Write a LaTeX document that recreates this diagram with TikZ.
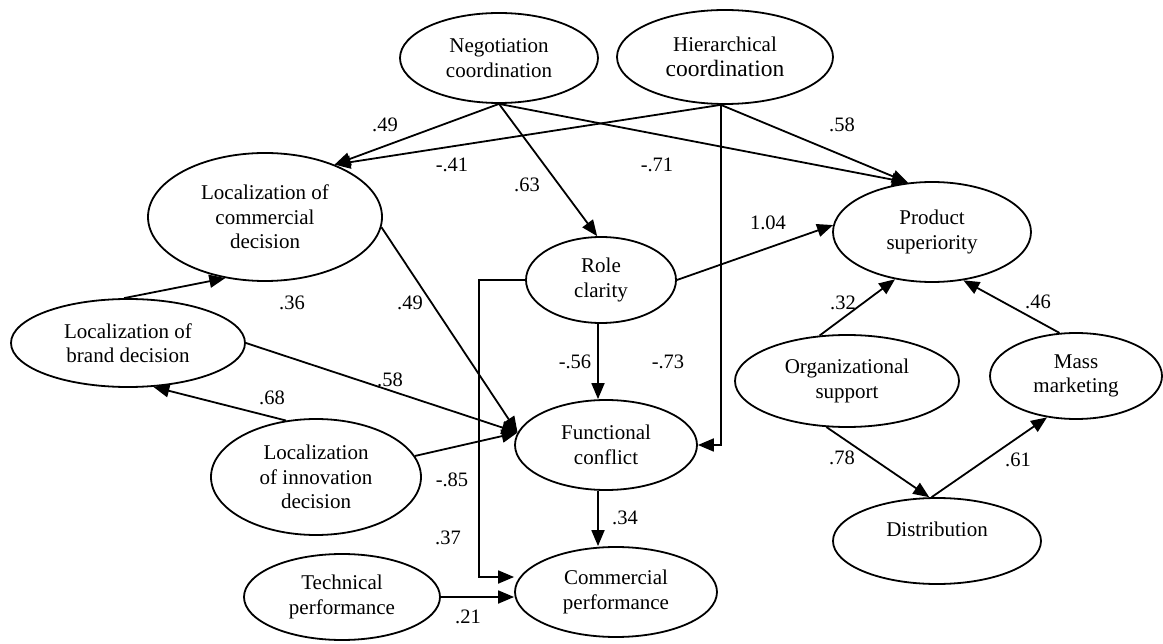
\documentclass[tikz,border=0pt]{standalone}
\usepackage{fontspec}
\setmainfont{Liberation Serif}
\usetikzlibrary{shapes.geometric,arrows.meta,calc}
\begin{document}
\begin{tikzpicture}[x=1pt,y=-1pt,
  lat/.style={draw,ellipse,line width=1.8pt,inner sep=0pt,align=center,font=\fontsize{21}{24.5}\selectfont},
  pth/.style={line width=1.8pt,-{Triangle[length=16pt,width=13pt]}},
  coef/.style={font=\fontsize{20.5}{24}\selectfont,inner sep=0pt}]
\useasboundingbox (0,0) rectangle (1163,644);

% latent variables
\node[lat,minimum width=198pt,minimum height=90pt] (neg) at (499,58) {Negotiation\\coordination};
\node[lat,minimum width=216pt,minimum height=94pt] (hier) at (725,57) {Hierarchical\\{\fontsize{23.5}{25}\selectfont coordination}};
\node[lat,minimum width=234pt,minimum height=128pt] (comm) at (265,217) {Localization of\\commercial\\decision};
\node[lat,minimum width=234pt,minimum height=88pt] (brand) at (128,343) {Localization of\\brand decision};
\node[lat,minimum width=210pt,minimum height=116pt] (innov) at (316,477) {Localization\\of innovation\\decision};
\node[lat,minimum width=150pt,minimum height=86pt] (role) at (601,280) {Role\\clarity};
\node[lat,minimum width=198pt,minimum height=100pt] (prod) at (932,232) {Product\\superiority};
\node[lat,minimum width=182pt,minimum height=90pt] (fc) at (606,445) {Functional\\conflict};
\node[lat,minimum width=202pt,minimum height=90pt] (cp) at (616,592) {Commercial\\performance};
\node[lat,minimum width=196pt,minimum height=86pt] (tech) at (342,597) {Technical\\performance};
\node[lat,minimum width=224pt,minimum height=92pt] (org) at (847,381) {Organizational\\support};
\node[lat,minimum width=172pt,minimum height=86pt] (mass) at (1076,376) {Mass\\marketing};
\node[lat,minimum width=208pt,minimum height=86pt] (dist) at (937,541) {Distribution\\ };

% paths
\draw[pth] (neg.south) -- (comm.37);
\draw[pth] (hier.265) -- (comm.37);
\draw[pth] (neg.south) -- (role.95);
\draw[pth] (neg.south) -- (prod.116);
\draw[pth] (hier.265) -- (prod.116);
\draw[pth] (hier.265) |- (fc.east);
\draw[pth] (comm.355) -- (fc.172);
\draw[pth] (brand.east) -- (fc.172);
\draw[pth] (innov.12) -- (fc.172);
\draw[pth] (brand.95) -- (comm.237);
\draw[pth] (innov.118) -- (brand.300);
\draw[pth] ([xshift=-3pt]role.south) -- ([xshift=-3pt]role.south |- fc.north);
\draw[pth] ([xshift=-8pt]fc.south) -- ([xshift=-8pt]fc.south |- cp.north);
\draw[pth] (role.west) -- ++(-46,0) |- ([yshift=15pt]cp.west);
\draw[pth] (tech.east) -- (tech.east -| cp.west);
\draw[pth] (role.east) -- (prod.176);
\draw[pth] (org.121) -- (prod.232);
\draw[pth] (mass.111) -- (prod.303);
\draw[pth] (org.246) -- (dist.100);
\draw[pth] (dist.97) -- (mass.235);

% coefficients
\node[coef] (c1) at (385,125) {.49};
\node[coef] (c2) at (452,165) {-.41};
\node[coef] (c3) at (527,185) {.63};
\node[coef] (c4) at (657,165) {-.71};
\node[coef] (c5) at (842,125) {.58};
\node[coef] (c6) at (768,223) {1.04};
\node[coef] (c7) at (292,303) {.36};
\node[coef] (c8) at (410,303) {.49};
\node[coef] (c9) at (390,380) {.58};
\node[coef] (c10) at (272,398) {.68};
\node[coef] (c11) at (575,362) {-.56};
\node[coef] (c12) at (668,362) {-.73};
\node[coef] (c13) at (452,480) {-.85};
\node[coef] (c14) at (448,538) {.37};
\node[coef] (c15) at (625,518) {.34};
\node[coef] (c16) at (468,617) {.21};
\node[coef] (c17) at (843,303) {.32};
\node[coef] (c18) at (1038,302) {.46};
\node[coef] (c19) at (842,458) {.78};
\node[coef] (c20) at (1018,460) {.61};
\end{tikzpicture}
\end{document}
